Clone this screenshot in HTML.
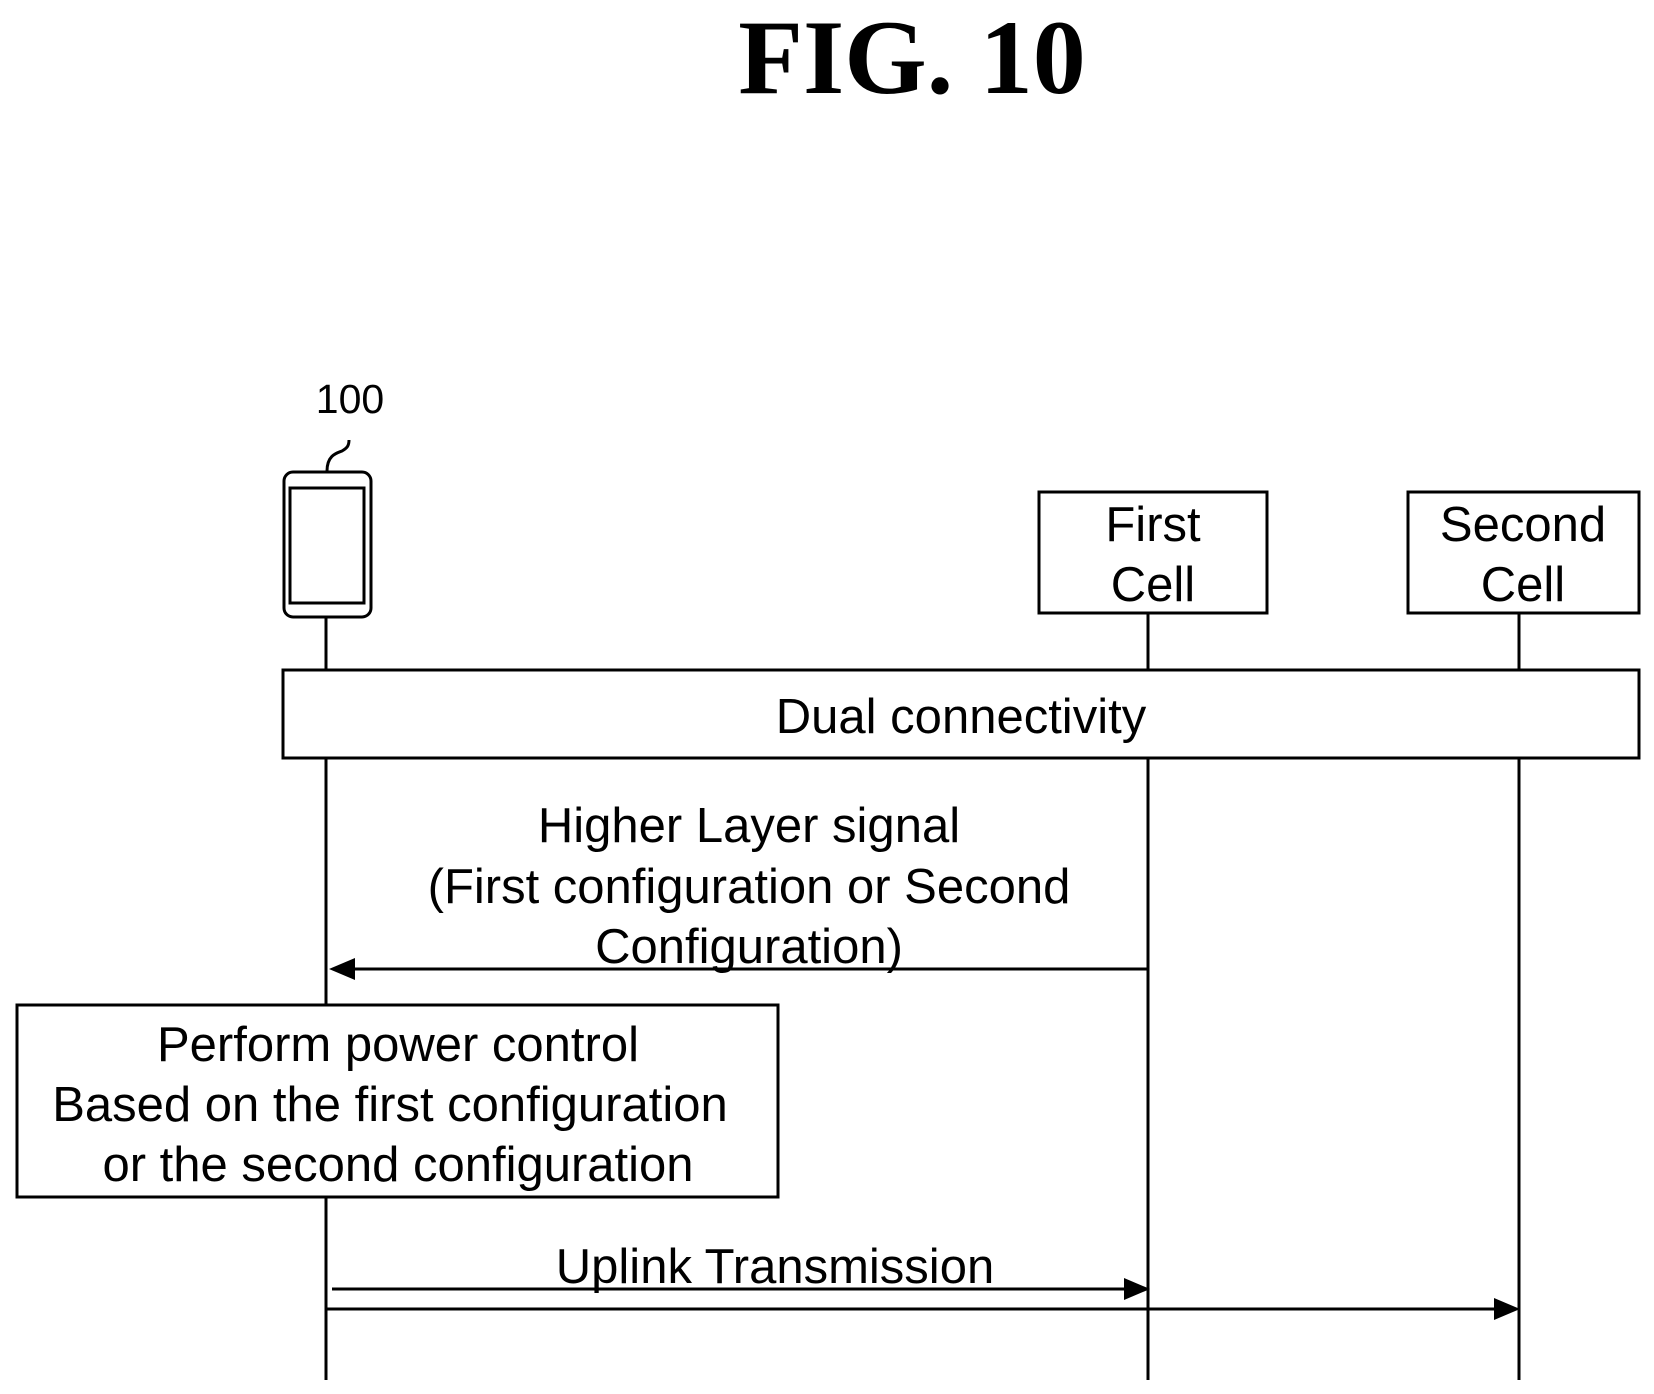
<!DOCTYPE html>
<html><head><meta charset="utf-8"><style>
body{margin:0;background:#fff;}
svg{display:block}
text{font-family:"Liberation Sans",sans-serif;fill:#000}
</style></head><body>
<svg width="1654" height="1394" viewBox="0 0 1654 1394" xmlns="http://www.w3.org/2000/svg">
<text x="912" y="93" text-anchor="middle" style="font-family:'Liberation Serif',serif;font-weight:bold;font-size:106px">FIG. 10</text>
<text x="350" y="413" text-anchor="middle" font-size="41">100</text>
<path d="M327,471 C327,455 337,453 342,451 C347,448 349,446 349,440" fill="none" stroke="#000" stroke-width="3"/>
<rect x="284" y="472" width="87" height="145" rx="9" fill="none" stroke="#000" stroke-width="3"/>
<rect x="290" y="488" width="74" height="115" fill="none" stroke="#000" stroke-width="3"/>
<g stroke="#000" stroke-width="3" fill="none">
<line x1="326" y1="617" x2="326" y2="1380"/>
<line x1="1148" y1="613" x2="1148" y2="1380"/>
<line x1="1519" y1="613" x2="1519" y2="1380"/>
<rect x="1039" y="492" width="228" height="121" fill="#fff"/>
<rect x="1408" y="492" width="231" height="121" fill="#fff"/>
<rect x="283" y="670" width="1356" height="88" fill="#fff"/>
<rect x="17" y="1005" width="761" height="192" fill="#fff"/>
<line x1="345" y1="969" x2="1148" y2="969"/>
<line x1="332" y1="1289" x2="1128" y2="1289"/>
<line x1="326" y1="1309" x2="1499" y2="1309"/>
</g>
<polygon points="329,969 355,958 355,980" fill="#000"/>
<polygon points="1150,1289 1124,1278 1124,1300" fill="#000"/>
<polygon points="1520,1309 1494,1298 1494,1320" fill="#000"/>
<g font-size="49" text-anchor="middle">
<text x="1153" y="541">First</text>
<text x="1153" y="601">Cell</text>
<text x="1523" y="541">Second</text>
<text x="1523" y="601">Cell</text>
<text x="961" y="733">Dual connectivity</text>
<text x="749" y="842">Higher Layer signal</text>
<text x="749" y="903">(First configuration or Second</text>
<text x="749" y="963">Configuration)</text>
<text x="398" y="1061">Perform power control</text>
<text x="390" y="1121">Based on the first configuration</text>
<text x="398" y="1181">or the second configuration</text>
<text x="775" y="1283">Uplink Transmission</text>
</g>
</svg>
</body></html>
